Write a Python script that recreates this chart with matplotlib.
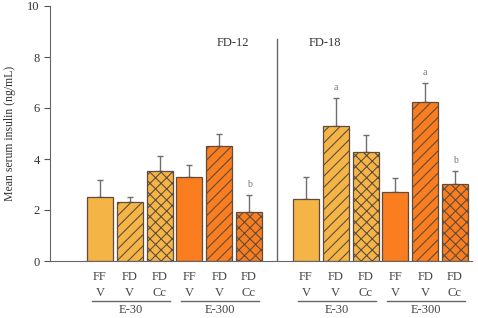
import numpy as np
import matplotlib.pyplot as plt
import matplotlib.transforms as mtransforms

plt.rcParams['font.family'] = ['Liberation Serif', 'DejaVu Serif']
plt.rcParams['hatch.linewidth'] = 0.8

# data
row1 = ["FF", "FD", "FD", "FF", "FD", "FD"]
row2 = ["V", "V", "Cc", "V", "V", "Cc"]
groups = ["E-30", "E-300"]
fd12_mean = [2.51, 2.31, 3.53, 3.29, 4.50, 1.92]
fd12_err = [0.67, 0.20, 0.57, 0.47, 0.48, 0.67]
fd18_mean = [2.43, 5.29, 4.27, 2.71, 6.24, 3.02]
fd18_err = [0.86, 1.10, 0.67, 0.54, 0.74, 0.51]
fd12_sig = ["", "", "", "", "", "b"]
fd18_sig = ["", "a", "", "", "a", "b"]

light = "#f5b446"
dark = "#fa7d1f"
colors = [light, light, light, dark, dark, dark]
hatches = ["", "///", "xxx", "", "///", "xxx"]
edge = "#5e4d3e"

fig = plt.figure(figsize=(4.78, 3.18), dpi=100)
ax = fig.add_axes([50/478, 1-261/318, 422/478, 255/318])

step = 29.8
x12 = np.arange(6) * step + 100
x18 = np.arange(6) * step + 306
width = 26

for xs, means, errs, sig in [(x12, fd12_mean, fd12_err, fd12_sig),
                             (x18, fd18_mean, fd18_err, fd18_sig)]:
    ax.errorbar(xs, means, yerr=[np.zeros(6), errs], fmt='none',
                ecolor="#6e6e6e", elinewidth=1, capsize=2.5, capthick=1, zorder=1)
    for x, m, e, c, h, s in zip(xs, means, errs, colors, hatches, sig):
        ax.bar(x, m, width=width, color=c, edgecolor=edge, hatch=h,
               linewidth=0.9, zorder=2)
        if s:
            ax.text(x, m + e + 0.22, s, ha='center', va='bottom',
                    fontsize=7, color="#777777")

ax.set_xlim(50, 472)
ax.set_ylim(0, 10)
ax.set_yticks([0, 2, 4, 6, 8, 10])
ax.set_xticks([])
ax.tick_params(axis='y', direction='out', length=4, labelsize=9,
               colors="#555555", labelcolor="#333333")
for sp in ['top', 'right']:
    ax.spines[sp].set_visible(False)
for sp in ['left', 'bottom']:
    ax.spines[sp].set_color("#666666")
ax.set_ylabel("Mean serum insulin (ng/mL)", fontsize=8.5, color="#333333",
              labelpad=8)

ax.plot([277, 277], [0, 8.7], color="#666666", lw=1)
ax.text(233, 8.45, "FD-12", fontsize=9, color="#333333", ha='center')
ax.text(325, 8.45, "FD-18", fontsize=9, color="#333333", ha='center')

trans = mtransforms.blended_transform_factory(ax.transData, ax.transAxes)
def ya(ypix):
    return (261 - ypix) / 255

for xs in [x12, x18]:
    for x, a, b in zip(xs, row1, row2):
        ax.text(x, ya(277), a, transform=trans, ha='center', va='center',
                fontsize=9, color="#444444")
        ax.text(x, ya(293), b, transform=trans, ha='center', va='center',
                fontsize=9, color="#444444")
    for g, lab in enumerate(groups):
        x0 = xs[3*g] - 8
        x1 = xs[3*g + 2] + 10
        ax.plot([x0, x1], [ya(301), ya(301)], transform=trans, color="#666666",
                lw=1, clip_on=False)
        ax.text((x0 + x1) / 2, ya(310), lab, transform=trans, ha='center',
                va='center', fontsize=9, color="#444444")

fig.savefig("out.png", dpi=100)
